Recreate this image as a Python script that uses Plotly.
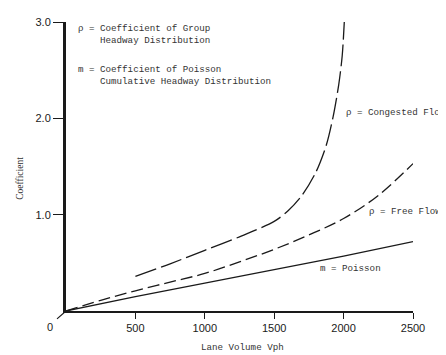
import plotly.graph_objects as go

# values
poisson_vol = [0, 500, 1000, 1500, 2000, 2500]
poisson_m = [0, 0.15, 0.29, 0.43, 0.57, 0.72]

free_vol = [0, 250, 500, 750, 1000, 1250, 1500, 1750, 2000, 2250, 2500]
free_rho = [0, 0.11, 0.21, 0.30, 0.39, 0.51, 0.64, 0.79, 0.96, 1.20, 1.53]

cong_vol = [500, 750, 1000, 1250, 1500, 1600, 1700, 1800, 1875, 1925, 1965, 1990, 2005]
cong_rho = [0.36, 0.49, 0.63, 0.77, 0.93, 1.04, 1.20, 1.44, 1.72, 2.02, 2.35, 2.65, 3.0]

x_ticks = [500, 1000, 1500, 2000, 2500]
y_ticks = [1, 2, 3]
y_ticktext = ["1.0", "2.0", "3.0"]

ink = "#1a1a1a"
mono = "Liberation Mono"
fsize = 9.2

fig = go.Figure()
fig.add_trace(go.Scatter(x=poisson_vol, y=poisson_m, mode="lines",
                         line=dict(color=ink, width=1.3), cliponaxis=False))
fig.add_trace(go.Scatter(x=free_vol, y=free_rho, mode="lines",
                         line=dict(color=ink, width=1.3, dash="12px,5px", shape="spline"),
                         cliponaxis=False))
fig.add_trace(go.Scatter(x=cong_vol, y=cong_rho, mode="lines",
                         line=dict(color=ink, width=1.3, dash="22px,5px", shape="spline",
                                   smoothing=0.8),
                         cliponaxis=False))

# page has an 8px body margin; plot area on screen is x 66..413, y 16..311
OFF = 8
def px(x):
    return (x - 66) / 347

def py(y):
    return (311 - y) / 295

nb = "\u00a0"
notes = [
    ("\u03c1 = Coefficient of Group<br>" + nb * 4 + "Headway Distribution", 76, 28.5),
    ("m = Coefficient of Poisson<br>" + nb * 4 + "Cumulative Headway Distribution", 76, 70.5),
    ("\u03c1 = Congested Flow", 344, 108),
    ("\u03c1 = Free Flow", 367, 209),
    ("m = Poisson", 318, 268),
]
for txt, x, y in notes:
    fig.add_annotation(text=txt, x=px(x), y=py(y), xref="paper", yref="paper",
                       xanchor="left", yanchor="middle", align="left", showarrow=False,
                       font=dict(family=mono, size=fsize, color="#333"))

fig.add_annotation(text="Lane Volume Vph", x=px(242), y=py(348), xref="paper", yref="paper",
                   xanchor="center", yanchor="middle", showarrow=False,
                   font=dict(family=mono, size=fsize, color="#333"))
fig.add_annotation(text="Coefficient", x=px(20), y=py(176), xref="paper", yref="paper",
                   xanchor="center", yanchor="middle", textangle=-90, showarrow=False,
                   font=dict(family="Liberation Serif", size=9.5, color="#333"))
fig.add_annotation(text="0", x=px(50), y=py(327), xref="paper", yref="paper",
                   xanchor="center", yanchor="middle", showarrow=False,
                   font=dict(family="Liberation Sans", size=11, color=ink))
fig.add_shape(type="line", xref="paper", yref="paper",
              x0=px(66), y0=py(311), x1=px(57), y1=py(319),
              line=dict(color=ink, width=1.2))

fig.update_xaxes(range=[0, 2500], tickvals=x_ticks, showgrid=False, zeroline=False,
                 showline=True, linecolor=ink, linewidth=2, ticks="outside",
                 ticklen=6, tickcolor=ink, tickwidth=1,
                 tickfont=dict(family="Liberation Sans", size=11, color=ink))
fig.update_yaxes(range=[0, 3], tickvals=y_ticks, ticktext=y_ticktext, showgrid=False,
                 zeroline=False, showline=True, linecolor=ink, linewidth=3,
                 ticks="outside", ticklen=10, tickcolor=ink, tickwidth=1,
                 tickfont=dict(family="Liberation Sans", size=11, color=ink))

fig.update_layout(width=446 - OFF, height=355 - OFF, showlegend=False,
                  margin=dict(l=66 - OFF, r=33, t=16 - OFF, b=44),
                  plot_bgcolor="white", paper_bgcolor="white")

fig.write_html("out.html")
